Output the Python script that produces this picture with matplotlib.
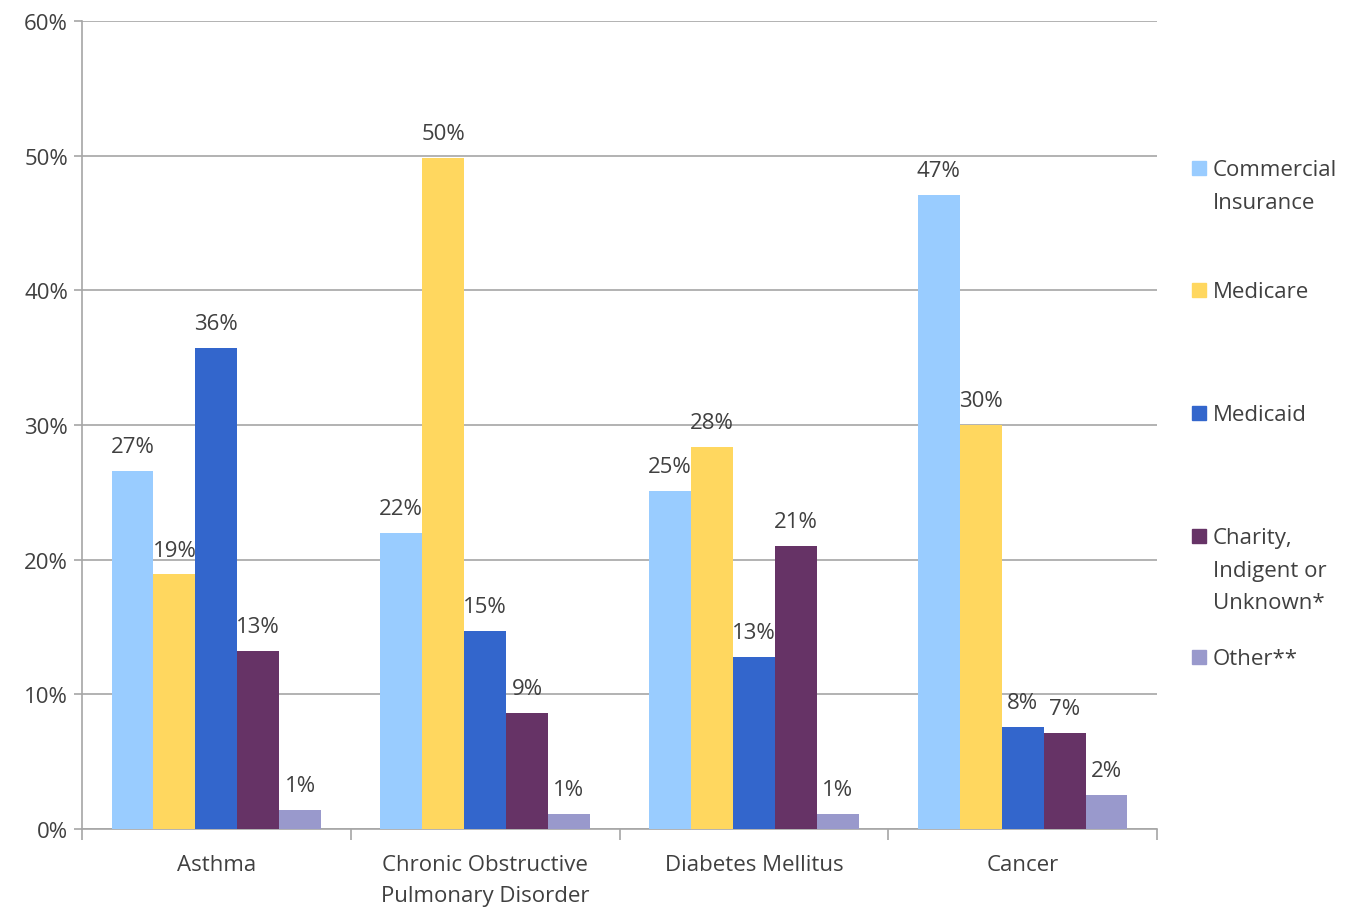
import matplotlib.pyplot as plt
import numpy as np

categories = ['Asthma', 'Chronic Obstructive\nPulmonary Disorder', 'Diabetes Mellitus', 'Cancer']
series = ['Commercial\nInsurance', 'Medicare', 'Medicaid', 'Charity,\nIndigent or\nUnknown*', 'Other**']
commercial = [26.6, 22.0, 25.1, 47.1]
medicare = [18.9, 49.8, 28.4, 30.0]
medicaid = [35.7, 14.7, 12.8, 7.6]
charity = [13.2, 8.6, 21.0, 7.1]
other = [1.4, 1.1, 1.1, 2.5]
values = [commercial, medicare, medicaid, charity, other]
colors = ['#99CCFF', '#FFD75F', '#3366CC', '#663366', '#9999CC']

plt.rcParams['font.family'] = ['Open Sans', 'DejaVu Sans']
text_col = '#404040'
grid_col = '#A6A6A6'

fig = plt.figure(figsize=(13.54, 9.12), dpi=100)
ax = fig.add_axes([82 / 1354, 1 - 830 / 912, (1157 - 82) / 1354, (830 - 22) / 912])

x = np.arange(len(categories))
w = 0.156
for i, (vals, c) in enumerate(zip(values, colors)):
    pos = x + (i - 2) * w
    ax.bar(pos, vals, width=w, color=c, zorder=3)
    for px, v in zip(pos, vals):
        ax.annotate(f'{v:.0f}%', (px, v), xytext=(0, 10), textcoords='offset points',
                    ha='center', va='bottom', fontsize=16, color=text_col)

ax.set_xlim(-0.5, len(categories) - 0.5)
ax.set_ylim(0, 60)
ax.set_yticks(range(0, 61, 10))
ax.set_yticklabels([f'{t}%' for t in range(0, 61, 10)], fontsize=16, color=text_col)
ax.yaxis.grid(True, color=grid_col, linewidth=1.2, zorder=0)
ax.set_xticks(x)
ax.set_xticklabels(categories, fontsize=16, color=text_col, linespacing=1.65)
ax.tick_params(axis='x', length=0, pad=18)
ax.set_xticks(np.arange(-0.5, len(categories), 1), minor=True)
ax.tick_params(axis='x', which='minor', length=8, color=grid_col, width=1.2)
ax.tick_params(axis='y', length=6, color=grid_col, width=1.2, pad=4)
for s in ['top', 'right']:
    ax.spines[s].set_visible(False)
for s in ['left', 'bottom']:
    ax.spines[s].set_color(grid_col)
    ax.spines[s].set_linewidth(1.2)

# legend drawn by hand (Excel-style spacing)
leg_y = [169, 291, 414, 537, 658]
for name, c, yc in zip(series, colors, leg_y):
    fig.patches.append(plt.Rectangle((1192 / 1354, 1 - (yc + 7) / 912), 14 / 1354, 14 / 912,
                                     transform=fig.transFigure, color=c))
    fig.text(1213 / 1354, 1 - (yc - 9) / 912, name, ha='left', va='top', fontsize=16,
             color=text_col, linespacing=1.72)

fig.savefig('out.png', dpi=100)
